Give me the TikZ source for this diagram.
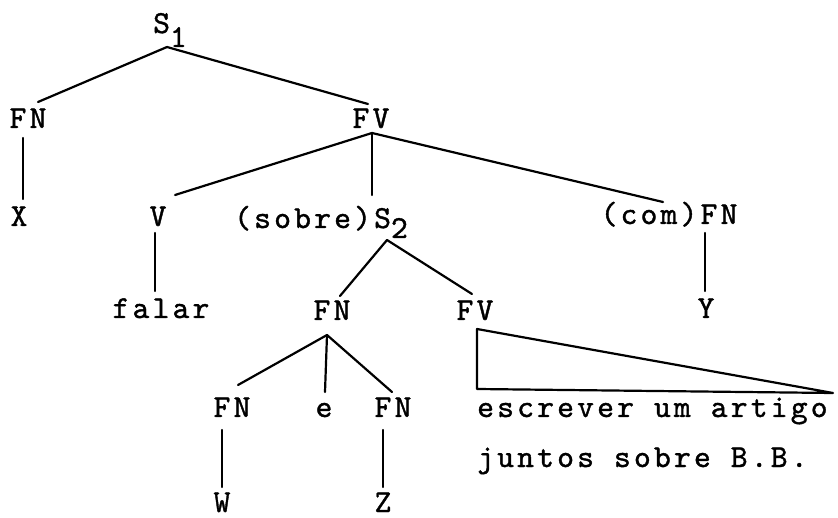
\documentclass[tikz,border=0pt]{standalone}
\usepackage{fontspec}
\newfontfamily\twfam{lmmono10-regular.otf}[LetterSpace=10,FakeBold=1.2]
\newcommand\twfont{\twfam\fontsize{32}{35}\selectfont}
\tikzset{
  lbl/.style={inner sep=0pt, anchor=base, font=\twfont},
  lblw/.style={inner sep=0pt, anchor=base west, font=\twfont},
  edge/.style={line width=2.2pt, line cap=round, line join=round}
}
\begin{document}
\begin{tikzpicture}[x=1pt,y=-1pt]
\useasboundingbox (0,0) rectangle (838,518);
% nodes
\node[lbl] (S1) at (170,33) {S\raisebox{-14pt}{1}};
\node[lbl] (FNa) at (28,128) {FN};
\node[lbl] (FVa) at (371,128) {FV};
\node[lbl] (X) at (19,226) {X};
\node[lbl] (V) at (158,226) {V};
\node[lbl] (S2) at (321,228) {(sobre)S\raisebox{-10pt}{2}};
\node[lbl] (comFN) at (669,224) {(com)FN};
\node[lbl] (falar) at (161,318) {falar};
\node[lbl] (Y) at (706,318) {Y};
\node[lbl] (FNb) at (332,320) {FN};
\node[lbl] (FVb) at (475,320) {FV};
\node[lbl] (FNc) at (232,417) {FN};
\node[lbl] (e) at (324,417) {e};
\node[lbl] (FNd) at (393,417) {FN};
\node[lblw] (esc) at (477,417) {escrever um artigo};
\node[lblw] (jun) at (477,467) {juntos sobre B.B.};
\node[lbl] (W) at (222,512) {W};
\node[lbl] (Z) at (383,512) {Z};
% connectors
\draw[edge] ([xshift=-3pt,yshift=-14pt]S1.base) -- ([xshift=10pt,yshift=26pt]FNa.base);
\draw[edge] ([xshift=-3pt,yshift=-14pt]S1.base) -- ([xshift=-3pt,yshift=24pt]FVa.base);
\draw[edge] ([xshift=-5pt,yshift=-10pt]FNa.base) -- ([xshift=4pt,yshift=27pt]X.base);
\draw[edge] ([xshift=1pt,yshift=-5pt]FVa.base) -- ([xshift=17pt,yshift=31pt]V.base);
\draw[edge] ([xshift=1pt,yshift=-5pt]FVa.base) -- ([xshift=51pt,yshift=33pt]S2.base);
\draw[edge] ([xshift=1pt,yshift=-5pt]FVa.base) -- ([xshift=-6pt,yshift=22pt]comFN.base);
\draw[edge] ([xshift=-3pt,yshift=-7pt]V.base) -- ([xshift=-6pt,yshift=27pt]falar.base);
\draw[edge] ([xshift=66pt,yshift=-12pt]S2.base) -- ([xshift=8pt,yshift=24pt]FNb.base);
\draw[edge] ([xshift=66pt,yshift=-12pt]S2.base) -- ([xshift=-3pt,yshift=26pt]FVb.base);
\draw[edge] ([xshift=36pt,yshift=-9pt]comFN.base) -- ([xshift=-1pt,yshift=27pt]Y.base);
\draw[edge] ([xshift=-5pt,yshift=-15pt]FNb.base) -- ([xshift=6pt,yshift=32pt]FNc.base);
\draw[edge] ([xshift=-5pt,yshift=-15pt]FNb.base) -- ([xshift=1pt,yshift=25pt]e.base);
\draw[edge] ([xshift=-5pt,yshift=-15pt]FNb.base) -- ([xshift=-1pt,yshift=25pt]FNd.base);
\draw[edge] ([xshift=-10pt,yshift=-13pt]FNc.base) -- ([yshift=25pt]W.base);
\draw[edge] ([xshift=-10pt,yshift=-13pt]FNd.base) -- ([yshift=25pt]Z.base);
\draw[edge] ([xshift=2pt,yshift=-9pt]FVb.base) -- ([yshift=28pt]esc.base west) -- ([xshift=356pt,yshift=24pt]esc.base west) -- cycle;
\end{tikzpicture}
\end{document}
